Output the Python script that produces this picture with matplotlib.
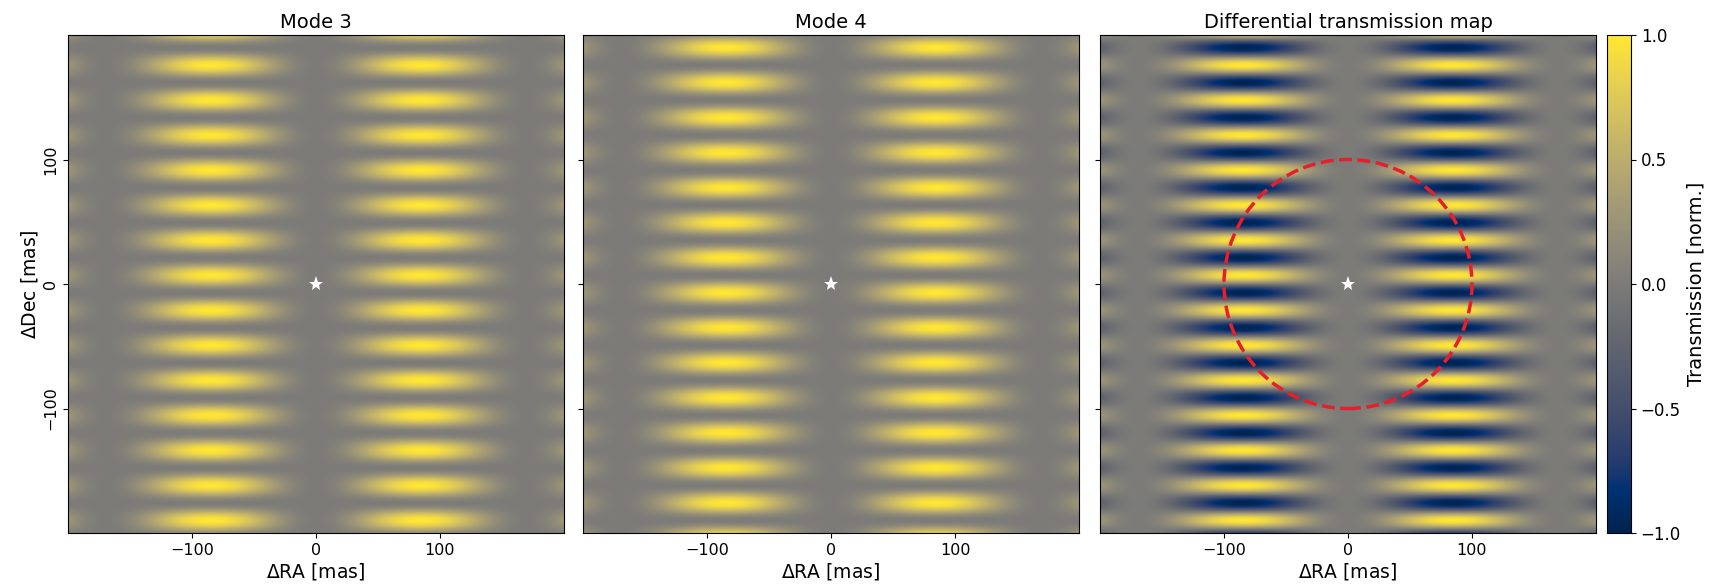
import numpy as np
import matplotlib.pyplot as plt
from matplotlib.patches import Circle

# sky grid (mas)
field_half = 200.0
n_pix = 401

# fringe parameters
dec_fringe_period = 28.2      # spacing of the bright rows along Dec
ra_lobe_period = 170.0        # RA envelope: zeros at 0 and +-170, peaks near +-85
mode3_row_offset = 7.0        # Mode 3 rows sit just above Dec = 0
mode4_row_offset = -7.0       # Mode 4 rows sit just below Dec = 0

planet_radius = 100.0         # dashed circle on the differential map

titles = ["Mode 3", "Mode 4", "Differential transmission map"]
tick_values = [-100, 0, 100]
cbar_ticks = [-1.0, -0.5, 0.0, 0.5, 1.0]

ra = np.linspace(-field_half, field_half, n_pix)
dec = np.linspace(-field_half, field_half, n_pix)
RA, DEC = np.meshgrid(ra, dec)

envelope = np.sin(np.pi * RA / ra_lobe_period) ** 2


def mode_map(offset):
    phase = 2 * np.pi * (DEC - offset) / dec_fringe_period
    return envelope * 0.5 * (1 + np.cos(phase))


mode3 = mode_map(mode3_row_offset)
mode4 = mode_map(mode4_row_offset)
diff = mode3 - mode4
maps = [mode3, mode4, diff]

W, H = 1711, 584
fig = plt.figure(figsize=(W / 100, H / 100), dpi=100)

lefts = [68, 583, 1100]
ax_w, ax_top, ax_bot = 496, 35, 533
axes = []
for i, left in enumerate(lefts):
    ax = fig.add_axes([left / W, (H - ax_bot) / H, ax_w / W, (ax_bot - ax_top) / H])
    im = ax.imshow(maps[i], extent=[-field_half, field_half, -field_half, field_half],
                   origin='lower', cmap='cividis', vmin=-1, vmax=1,
                   aspect='auto', interpolation='bilinear')
    ax.plot(0, 0, marker='*', color='white', markersize=11, markeredgewidth=0)
    ax.set_xticks(tick_values)
    ax.set_yticks(tick_values)
    ax.tick_params(labelsize=11.5)
    ax.set_xlabel(r'$\Delta$RA [mas]', fontsize=13.5, labelpad=2)
    ax.set_title(titles[i], fontsize=14, pad=5)
    if i == 0:
        ax.set_ylabel(r'$\Delta$Dec [mas]', fontsize=13.5, labelpad=2)
        for lab in ax.get_yticklabels():
            lab.set_rotation(90)
            lab.set_va('center')
    else:
        ax.set_yticklabels([])
    axes.append(ax)

circ = Circle((0, 0), planet_radius, fill=False, edgecolor='#e5202a',
              linestyle='--', linewidth=2.5)
axes[2].add_patch(circ)

cax = fig.add_axes([1607 / W, (H - ax_bot) / H, 24 / W, (ax_bot - ax_top) / H])
cb = fig.colorbar(im, cax=cax, ticks=cbar_ticks)
cb.ax.tick_params(labelsize=12)
cb.set_label('Transmission [norm.]', fontsize=14)

fig.savefig('out.png', dpi=100)
